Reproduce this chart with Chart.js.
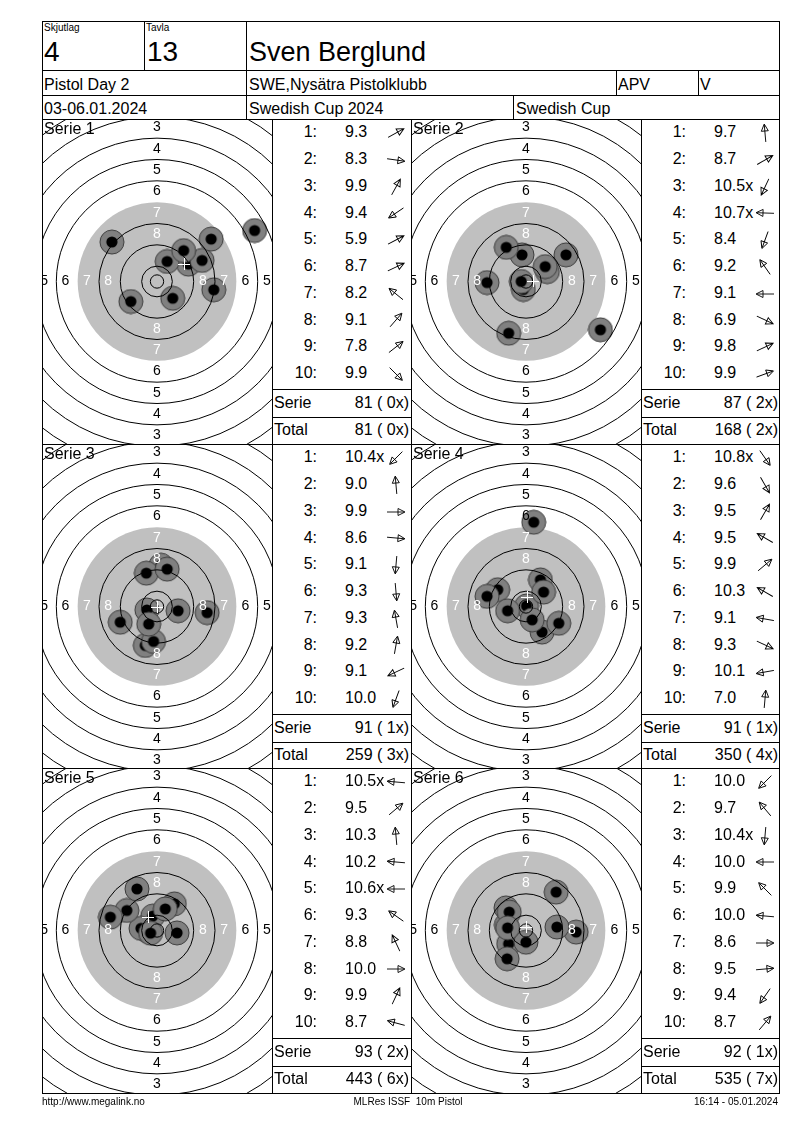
<!DOCTYPE html>
<html>
<head>
<meta charset="utf-8">
<script src="https://cdn.jsdelivr.net/npm/chart.js@4.4.1/dist/chart.umd.min.js"></script>
<style>
body { margin: 0; background: #fff; font-family: "Liberation Sans", Arial, sans-serif; color: #000; }
#page { position: relative; width: 800px; height: 1130px; overflow: hidden; }
.t { position: absolute; white-space: pre; line-height: 1; z-index: 4; }
.ln { position: absolute; background: #000; z-index: 5; }
canvas { position: absolute; z-index: 1; }
svg { position: absolute; z-index: 3; overflow: visible; }
</style>
</head>
<body>
<div id="page"></div>
<script>
// series data
const serieNames = ["Serie 1", "Serie 2", "Serie 3", "Serie 4", "Serie 5", "Serie 6"];

const shotScores = [
    ["9.3", "8.3", "9.9", "9.4", "5.9", "8.7", "8.2", "9.1", "7.8", "9.9"],
    ["9.7", "8.7", "10.5x", "10.7x", "8.4", "9.2", "9.1", "6.9", "9.8", "9.9"],
    ["10.4x", "9.0", "9.9", "8.6", "9.1", "9.3", "9.3", "9.2", "9.1", "10.0"],
    ["10.8x", "9.6", "9.5", "9.5", "9.9", "10.3", "9.1", "9.3", "10.1", "7.0"],
    ["10.5x", "9.5", "10.3", "10.2", "10.6x", "9.3", "8.8", "10.0", "9.9", "8.7"],
    ["10.0", "9.7", "10.4x", "10.0", "9.9", "10.0", "8.6", "9.5", "9.4", "8.7"]
];

// arrow angle in degrees, counter-clockwise from east
const shotArrows = [
    [29, -8, 61, 214, 28, 25, 141, 49, 38, -45],
    [95, 30, 245, 178, 250, 125, 180, -25, 25, 20],
    [225, 95, 0, -5, 265, 275, 100, 80, 205, 250],
    [-55, -60, 60, 150, 40, 150, 170, -25, 190, 85],
    [175, 40, 95, 175, 180, 145, 115, 0, 65, 165],
    [225, 130, 265, 180, 135, 175, 0, 5, 235, 50]
];

// shot positions on the target, mm from centre
const shotX = [
    [11.8, 21.3, 3.8, -9.8, 36.6, 16.9, -16.9, 10.0, 20.3, 5.9],
    [-1.5, 15.0, -1.0, -1.8, -6.5, -7.4, -14.6, 27.9, 8.0, 7.2],
    [-3.8, 1.5, 7.9, 18.8, -4.4, -1.3, -4.0, 3.8, -13.8, -3.1],
    [0.2, 6.0, 5.4, -10.6, 6.6, 2.3, -14.6, 12.3, -6.9, 2.9],
    [-3.6, 6.5, -1.6, -6.0, -2.4, -11.3, -7.5, 7.5, 3.1, -17.5],
    [-6.5, -7.5, 0.0, -7.4, -6.3, -6.9, 18.8, 11.6, -7.1, 11.3]
];
const shotY = [
    [6.5, -3.1, 7.5, -7.5, 19.1, 7.9, 14.8, 11.6, 15.9, -6.3],
    [10.0, 10.0, -3.0, 0.0, -19.4, 12.8, -0.4, -18.1, 3.7, 5.6],
    [-1.3, 15.5, -1.6, -2.3, -14.6, -13.1, 12.5, 14.0, -5.9, -6.6],
    [0.2, -9.6, 10.0, 6.3, 5.4, -5.0, 3.8, -6.3, -1.6, 31.6],
    [-0.2, 10.0, 5.4, 0.8, -1.0, 7.5, 15.6, -0.9, 8.1, 5.0],
    [-5.0, 8.5, -4.4, 2.1, 6.9, 1.0, -0.6, 1.3, -10.6, 14.4]
];

const serieSums = ["81 ( 0x)", "87 ( 2x)", "91 ( 1x)", "91 ( 1x)", "93 ( 2x)", "92 ( 1x)"];
const runningTotals = ["81 ( 0x)", "168 ( 2x)", "259 ( 3x)", "350 ( 4x)", "443 ( 6x)", "535 ( 7x)"];

// ISSF 10m pistol rings (mm radius) and labels
const ringRadii = [2.5, 5.75, 13.75, 21.75, 37.75, 45.75, 53.75, 61.75, 69.75];
const blackRadius = 29.75;
const labelRings = [3, 4, 5, 6, 7, 8];

const page = document.getElementById("page");
const pxPerMm = 2.667;
const rowTop = [119, 444, 768];
const targetLeft = [42, 411];
const scoreLeft = [272, 641];

const txt = (s, x, base, fs, align) => {
    const d = document.createElement("div");
    d.className = "t";
    d.textContent = s;
    d.style.fontSize = fs + "px";
    d.style.top = (base - 0.85 * fs) + "px";
    if (align === "right") {
        d.style.right = (800 - x) + "px";
    } else if (align === "center") {
        d.style.left = x + "px";
        d.style.transform = "translateX(-50%)";
    } else {
        d.style.left = x + "px";
    }
    page.appendChild(d);
};

const line = (x, y, w, h) => {
    const d = document.createElement("div");
    d.className = "ln";
    d.style.left = x + "px";
    d.style.top = y + "px";
    d.style.width = w + "px";
    d.style.height = h + "px";
    page.appendChild(d);
};

const arrow = (cx, cy, deg) => {
    const ns = "http://www.w3.org/2000/svg";
    const svg = document.createElementNS(ns, "svg");
    svg.setAttribute("width", 24);
    svg.setAttribute("height", 24);
    svg.style.left = (cx - 12) + "px";
    svg.style.top = (cy - 12) + "px";
    const g = document.createElementNS(ns, "g");
    g.setAttribute("transform", "translate(12,12) rotate(" + (-deg) + ")");
    const p = document.createElementNS(ns, "path");
    p.setAttribute("d", "M-9,0 L8,0 M2,-3.5 L9,0 L2,3.5 Z");
    p.setAttribute("fill", "none");
    p.setAttribute("stroke", "#000");
    p.setAttribute("stroke-width", "0.9");
    g.appendChild(p);
    svg.appendChild(g);
    page.appendChild(svg);
};

// shot marker used as point style
const shotImg = document.createElement("canvas");
shotImg.width = 26;
shotImg.height = 26;
(() => {
    const c = shotImg.getContext("2d");
    c.beginPath();
    c.arc(13, 13, 12, 0, 2 * Math.PI);
    c.fillStyle = "#808080";
    c.fill();
    c.strokeStyle = "#3c3c3c";
    c.lineWidth = 1;
    c.stroke();
    c.beginPath();
    c.arc(13, 13, 5.6, 0, 2 * Math.PI);
    c.fillStyle = "#000";
    c.fill();
})();

const targetPlugin = {
    id: "target",
    beforeDatasetsDraw(chart) {
        const { ctx, chartArea: a, scales: { x, y } } = chart;
        const cx = x.getPixelForValue(0), cy = y.getPixelForValue(0);
        const k = x.getPixelForValue(1) - cx;
        ctx.save();
        ctx.beginPath();
        ctx.rect(a.left, a.top, a.right - a.left, a.bottom - a.top);
        ctx.clip();
        ctx.fillStyle = "#c0c0c0";
        ctx.beginPath();
        ctx.arc(cx, cy, blackRadius * k, 0, 2 * Math.PI);
        ctx.fill();
        ctx.restore();
    },
    afterDatasetsDraw(chart, args, opts) {
        const { ctx, chartArea: a, scales: { x, y } } = chart;
        const cx = x.getPixelForValue(0), cy = y.getPixelForValue(0);
        const k = x.getPixelForValue(1) - cx;
        ctx.save();
        ctx.beginPath();
        ctx.rect(a.left, a.top, a.right - a.left, a.bottom - a.top);
        ctx.clip();
        ctx.strokeStyle = "#000";
        ctx.lineWidth = 1;
        ringRadii.forEach(r => {
            ctx.beginPath();
            ctx.arc(cx, cy, r * k, 0, 2 * Math.PI);
            ctx.stroke();
        });
        ctx.font = '14px "Liberation Sans", Arial, sans-serif';
        ctx.textAlign = "center";
        ctx.textBaseline = "middle";
        labelRings.forEach(n => {
            const r = (blackRadius + (7 - n) * 8 - 4) * k;
            ctx.fillStyle = n >= 7 ? "#fff" : "#000";
            ctx.fillText(String(n), cx, cy - r);
            ctx.fillText(String(n), cx, cy + r);
            ctx.fillText(String(n), cx - r - 1.5, cy);
            ctx.fillText(String(n), cx + r - 1.5, cy);
        });
        // mean point of impact
        const pts = chart.data.datasets[0].data;
        const mx = Math.round(x.getPixelForValue(pts.reduce((s, p) => s + p.x, 0) / pts.length));
        const my = Math.round(y.getPixelForValue(pts.reduce((s, p) => s + p.y, 0) / pts.length));
        ctx.strokeStyle = "#fff";
        ctx.beginPath();
        ctx.moveTo(mx - 6, my + 0.5);
        ctx.lineTo(mx + 6, my + 0.5);
        ctx.moveTo(mx + 0.5, my - 6);
        ctx.lineTo(mx + 0.5, my + 6);
        ctx.stroke();
        ctx.fillStyle = "#000";
        ctx.font = '16px "Liberation Sans", Arial, sans-serif';
        ctx.textAlign = "left";
        ctx.textBaseline = "alphabetic";
        ctx.fillText(opts.title, a.left + 2, a.top + 15);
        ctx.restore();
    }
};

const drawTarget = (idx, left, top) => {
    const cv = document.createElement("canvas");
    const w = 230, h = 325;
    cv.width = w;
    cv.height = h;
    cv.style.left = left + "px";
    cv.style.top = top + "px";
    cv.style.width = w + "px";
    cv.style.height = h + "px";
    page.appendChild(cv);
    const hx = w / 2 / pxPerMm, hy = h / 2 / pxPerMm;
    new Chart(cv, {
        type: "scatter",
        data: {
            datasets: [{
                data: shotX[idx].map((v, i) => ({ x: v, y: shotY[idx][i] })),
                pointStyle: shotImg,
                pointRadius: 12,
                pointHoverRadius: 12
            }]
        },
        options: {
            responsive: false,
            animation: false,
            devicePixelRatio: 1,
            events: [],
            layout: { padding: 0, autoPadding: false },
            plugins: {
                legend: { display: false },
                tooltip: { enabled: false },
                target: { title: serieNames[idx] }
            },
            scales: {
                x: { type: "linear", min: -hx, max: hx, display: false },
                y: { type: "linear", min: -hy, max: hy, display: false }
            }
        },
        plugins: [targetPlugin]
    });
};

const drawScores = (idx, L, top) => {
    shotScores[idx].forEach((s, i) => {
        const base = top + 19 + 26.75 * i;
        txt((i + 1) + ":", L + 45, base, 16, "right");
        txt(s, L + 73, base, 16, "left");
        arrow(L + 124, top + 14 + 26.75 * i, shotArrows[idx][i]);
    });
    line(L, top + 270, 139, 1);
    line(L, top + 298, 139, 1);
    txt("Serie", L + 2, top + 290, 16, "left");
    txt(serieSums[idx], L + 137, top + 290, 16, "right");
    txt("Total", L + 2, top + 317, 16, "left");
    txt(runningTotals[idx], L + 137, top + 317, 16, "right");
};

serieNames.forEach((n, idx) => {
    const r = Math.floor(idx / 2), c = idx % 2;
    drawTarget(idx, targetLeft[c], rowTop[r]);
    drawScores(idx, scoreLeft[c], rowTop[r]);
});

// header
txt("Skjutlag", 44, 31, 10, "left");
txt("Tavla", 146, 31, 10, "left");
txt("4", 44, 62, 28, "left");
txt("13", 147, 62, 28, "left");
txt("Sven Berglund", 249, 62, 27, "left");
txt("Pistol Day 2", 44, 91, 16, "left");
txt("SWE,Nysätra Pistolklubb", 249, 91, 16, "left");
txt("APV", 618, 91, 16, "left");
txt("V", 700, 91, 16, "left");
txt("03-06.01.2024", 44, 115, 16, "left");
txt("Swedish Cup 2024", 249, 115, 16, "left");
txt("Swedish Cup", 516, 115, 16, "left");

// footer
txt("http://www.megalink.no", 42, 1105, 10, "left");
txt("MLRes ISSF  10m Pistol", 408, 1105, 10, "center");
txt("16:14 - 05.01.2024", 778, 1105, 10, "right");

// grid
[21, 70, 95, 119, 444, 768, 1093].forEach(y => line(42, y, 738, 1));
line(42, 21, 1, 1073);
line(779, 21, 1, 1073);
line(144, 21, 1, 49);
line(246, 21, 1, 98);
line(616, 70, 1, 25);
line(698, 70, 1, 25);
line(513, 95, 1, 24);
[272, 411, 641].forEach(x => line(x, 119, 1, 974));
</script>
</body>
</html>
